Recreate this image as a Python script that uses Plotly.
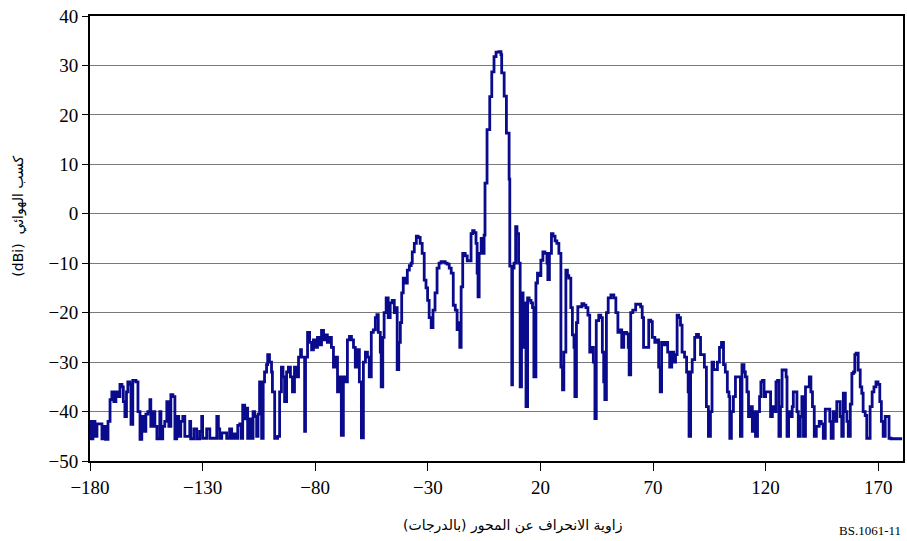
import plotly.graph_objects as go

# Off-axis angle (degrees) and antenna gain (dBi)
angle = [
    -180, -179.6, -178.7, -177.8, -176.9, -175.6, -174.7, -173.8, -173.1, -172,
    -171.1, -170.3, -169.4, -168.5, -167.6, -166.7, -165.8, -165.2, -164.5, -163.8,
    -163.2, -162.3, -161.8, -161, -159.6, -158.7, -157.8, -157, -156, -155.2,
    -154.3, -153.4, -153, -152, -151.2, -150.3, -149, -148.5, -147.7, -146.8,
    -145.9, -145, -144.1, -143.2, -142.3, -141.5, -140.6, -139.7, -138.8, -137.9,
    -136.6, -135.7, -135.3, -133.9, -132.6, -131.3, -130.4, -130, -128.2, -126.8,
    -125, -123.7, -123, -122.4, -121.5, -120.2, -119.3, -118, -117.1, -116.2,
    -115.3, -114.4, -113.5, -112.9, -112.2, -111.3, -110.4, -110, -109.1, -108.2,
    -107.6, -106.9, -106, -105.4, -104.7, -103.8, -103.1, -102.5, -101.6, -101.1,
    -100.3, -99.4, -99, -98, -96.7, -95.8, -95, -94.3, -93.6, -92.7,
    -91.9, -91, -90.1, -89.2, -88.3, -87.4, -86.5, -86.1, -84.7, -84.3,
    -83.4, -82.5, -81.6, -80.8, -79.9, -79, -78.1, -77.2, -76.3, -75.4,
    -74.6, -73.7, -72.8, -71.9, -71, -70.1, -69.2, -68.4, -67.5, -66.6,
    -65.7, -64.8, -63.9, -63, -62.2, -61.3, -60.4, -59.5, -58.6, -57.7,
    -56.8, -56, -55.1, -54.2, -53.3, -52.6, -52, -51.1, -50.7, -50,
    -49.4, -48.5, -47.6, -46.7, -45.8, -44.9, -44, -43.6, -42.9, -42.2,
    -41.6, -40.9, -40, -39.1, -38.2, -37.4, -36.9, -36, -35.1, -34.3,
    -33.4, -32.5, -31.6, -30.8, -30.1, -29.4, -28.5, -27.7, -26.8, -25.9,
    -25, -24.1, -23.2, -22.3, -21.4, -20.5, -19.6, -18.7, -17.8, -17,
    -16.3, -15.8, -15.2, -14.5, -13.4, -12.5, -11.7, -10.8, -10.1, -9.4,
    -8.6, -8.1, -7.7, -7.2, -6.3, -5.7, -5, -4.6, -3.7, -2.5,
    -1.6, -0.6, 0.3, 1.6, 2.5, 2.8, 3.9, 4.9, 6.1, 6.4,
    7.3, 7.6, 8.3, 9, 9.6, 10.3, 11, 11.6, 12.3, 13,
    13.6, 14.3, 15, 15.8, 16.5, 17.1, 18, 18.7, 19.4, 20.2,
    21.1, 22, 22.9, 23.3, 24, 24.9, 25.6, 26.5, 27.3, 28.2,
    29.1, 29.8, 30.4, 31.3, 32, 32.6, 33.5, 34.2, 34.9, 35.3,
    36, 36.6, 37.5, 38.4, 39.3, 40.2, 41.1, 41.9, 42.8, 43.5,
    44.2, 44.8, 45.9, 46.8, 47.5, 48.1, 48.6, 49.3, 50.1, 51.3,
    52.6, 53.5, 54.4, 55.2, 56.1, 57, 58.3, 59, 59.4, 60.1,
    61, 62.3, 63.7, 64.5, 65.2, 65.8, 67, 68.1, 69, 69.7,
    70.8, 71.7, 72.5, 73.2, 73.8, 74.7, 75.6, 76.5, 77.4, 78.3,
    79.2, 80, 80.7, 81.4, 82.2, 82.9, 84, 84.9, 85.6, 86,
    86.7, 87.4, 88.5, 89.3, 90.2, 91.1, 92, 92.8, 93.7, 94.6,
    95.5, 96.2, 96.9, 97.8, 98.6, 99.5, 100.4, 101.3, 102.1, 103,
    103.7, 104.1, 104.8, 105.7, 106.6, 107.9, 108.8, 109.5, 110.4, 111,
    111.7, 112.4, 113.3, 114.1, 114.8, 115.5, 116.4, 117.3, 117.9, 118.6,
    119.3, 120, 121.2, 122.2, 123, 123.9, 124.6, 125.3, 125.9, 126.6,
    127.3, 128.4, 129.1, 129.5, 130.2, 131.1, 131.8, 132.3, 133.2, 133.9,
    134.5, 135.4, 136.1, 136.8, 137.7, 138.6, 139.4, 140.1, 140.8, 141.6,
    142.5, 143.8, 144.7, 145.6, 146.5, 147.8, 148.5, 149.1, 150, 150.9,
    151.6, 152.3, 153.1, 153.8, 154.5, 155.4, 156.1, 156.7, 157.6, 158.3,
    159, 159.6, 160.2, 161.1, 162, 162.7, 163.3, 164.2, 164.9, 165.5,
    166.4, 167.3, 168.1, 169, 169.9, 170.7, 171.4, 172.2, 173.1, 173.9,
    174.8, 175.7, 180,
]
gain = [
    -42, -45.5, -42, -45, -42.5, -42.5, -45.5, -43, -45.6, -42,
    -37.6, -36, -38, -36, -37, -34.5, -35, -38, -41, -36,
    -34, -34.5, -42.6, -33.7, -34, -40, -45.6, -41, -44, -40.5,
    -40, -37.6, -43, -40, -43, -45.5, -40, -45.5, -43, -42,
    -38, -43, -36.6, -37, -45.5, -41, -45, -42, -41, -45,
    -45, -42, -45.5, -43.5, -45.5, -44, -41, -45.4, -43.5, -45.4,
    -45.4, -41, -43.5, -45.4, -44.3, -44.3, -45.4, -43.5, -45.4, -44.5,
    -45.4, -42.8, -42.5, -45.4, -38.7, -41.5, -39.3, -45.4, -41.5, -45.4,
    -40, -41, -45, -40.5, -34, -45.4, -34, -32, -30.5, -28.5,
    -30, -32, -36, -45.4, -45, -36, -31, -33, -38, -32,
    -31, -33, -36, -31, -33, -29, -27.5, -29, -44, -29,
    -24, -26, -27.5, -25.5, -27, -25, -26.5, -23.6, -25.5, -24.5,
    -26, -25, -27, -31, -29, -36, -33, -44.8, -33, -34,
    -25.5, -24.8, -25.5, -27, -31, -27.5, -34, -45.3, -30, -28,
    -29, -33, -24, -23.5, -21, -20.4, -24, -28, -35, -25,
    -20, -17, -21, -18, -17.5, -20, -19, -31.5, -26, -22,
    -16, -13, -14, -11.4, -10.5, -10, -7.7, -6, -4.5, -4.8,
    -6, -8, -13.4, -15, -17.5, -21, -23, -19.5, -16, -11,
    -10, -9.7, -9.7, -10, -10.2, -11, -12, -18.5, -19.5, -23.4,
    -22, -27, -14.8, -8, -8.5, -9.5, -9.5, -4, -3.4, -3.8,
    -6, -12, -16.8, -8, -5, -8, -4.3, 6.2, 17, 23.7,
    28.7, 31.8, 32.7, 32.8, 32.2, 28.5, 23.8, 16.3, 7, -10.6,
    -34.6, -11, -10, -2.6, -4, -10, -35, -16, -27, -18,
    -39, -17, -17.5, -18, -19, -33, -14, -12, -12.5, -9.4,
    -7.7, -8, -10, -13.3, -8, -4, -4.5, -5.5, -6, -8,
    -31, -35.6, -28, -11.4, -12.5, -13, -19, -24.5, -27, -37,
    -22, -18.8, -18.8, -18.2, -18.5, -19, -20.5, -28, -27, -30,
    -41.4, -21.6, -20.5, -21, -28, -34, -37.6, -20, -17, -16.4,
    -17, -20, -24, -23.5, -27, -24, -24.3, -27, -32.6, -20,
    -19.5, -18.3, -18.3, -18.8, -21, -27, -27, -21.5, -21.8, -25,
    -26, -25.5, -31, -36, -26, -26.5, -26, -28, -31, -28,
    -30, -28.5, -20.5, -21, -22.5, -28, -29, -32, -36, -45,
    -32, -29.5, -25, -24.4, -25, -28.5, -28.5, -31, -39, -45,
    -40, -30, -31.5, -31.5, -30, -27, -26, -30.5, -32, -36,
    -37, -45.4, -40, -37, -33, -33, -45, -30.5, -32, -33,
    -36, -41, -39, -44, -40, -45, -40, -37, -34, -33.7,
    -37, -36, -36, -41, -39, -40, -34, -33.7, -45, -39,
    -31.6, -31.6, -33, -45, -40, -41, -39, -36, -36, -40,
    -45, -41, -37, -45, -35, -35, -33, -36, -39, -45,
    -43, -42, -42.5, -45.4, -39.5, -39.5, -42, -45.4, -40, -42,
    -38, -38, -41, -45, -36.3, -40, -42, -45, -38.5, -32.3,
    -32, -28.5, -28.2, -31.6, -35, -36.3, -40, -40.8, -45.4, -45.4,
    -39, -36, -35, -34, -34.5, -38, -42, -45, -41, -41,
    -45.4, -45.5, -45.8,
]

x_ticks = [-180, -130, -80, -30, 20, 70, 120, 170]
y_ticks = [-50, -40, -30, -20, -10, 0, 10, 20, 30, 40]

y_title = "(dBi)  كسب الهوائي"
x_title = "زاوية الانحراف عن المحور (بالدرجات)"
fig_ref = "BS.1061-11"

fig = go.Figure()
fig.add_trace(go.Scatter(
    x=angle, y=gain, mode="lines",
    line=dict(color="#0a0a8c", width=2.8, shape="hv"),
    showlegend=False, hoverinfo="skip",
))

serif = "Liberation Serif, Times New Roman, serif"
fig.update_layout(
    width=907, height=541,
    margin=dict(l=90, r=2, t=16, b=80),
    paper_bgcolor="white", plot_bgcolor="white",
    xaxis=dict(
        range=[-180, 181], tickvals=x_ticks,
        ticks="outside", ticklen=8, tickwidth=1, tickcolor="black",
        showline=True, linecolor="black", linewidth=2, mirror=True,
        showgrid=False, zeroline=False,
        tickfont=dict(family=serif, size=19, color="black"),
    ),
    yaxis=dict(
        range=[-50, 40], tickvals=y_ticks,
        ticks="outside", ticklen=6, tickwidth=1, tickcolor="black",
        showline=True, linecolor="black", linewidth=2, mirror=True,
        showgrid=True, gridcolor="#7a7a7a", gridwidth=1, zeroline=False,
        tickfont=dict(family=serif, size=19, color="black"),
    ),
    annotations=[
        dict(text=y_title, xref="paper", yref="paper", x=-0.088, y=0.55,
             textangle=-90, showarrow=False, xanchor="center", yanchor="middle",
             font=dict(family="DejaVu Sans", size=14, color="black")),
        dict(text=x_title, xref="paper", yref="paper", x=0.52, y=-0.144,
             showarrow=False, xanchor="center", yanchor="middle",
             font=dict(family="DejaVu Sans", size=14, color="black")),
        dict(text=fig_ref, xref="paper", yref="paper", x=1.0, y=-0.1775,
             showarrow=False, xanchor="right", yanchor="bottom",
             font=dict(family=serif, size=13, color="black")),
    ],
)

fig.write_html("out.html")
